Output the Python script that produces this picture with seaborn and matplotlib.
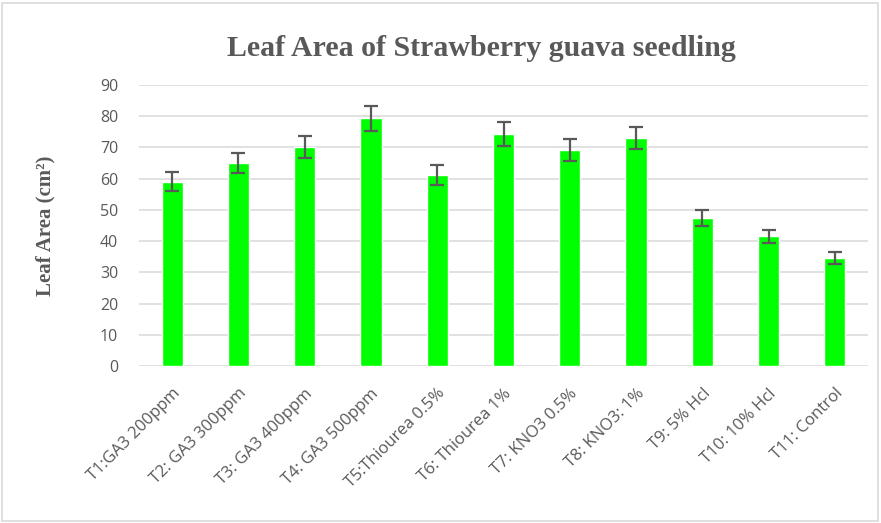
import matplotlib
matplotlib.use('Agg')
import matplotlib.pyplot as plt
import seaborn as sns
import pandas as pd
from matplotlib.patches import Rectangle

# ─── Data ───
treatments = ['T1:GA3 200ppm', 'T2: GA3 300ppm', 'T3: GA3 400ppm', 'T4: GA3 500ppm',
              'T5:Thiourea 0.5%', 'T6: Thiourea 1%', 'T7: KNO3 0.5%', 'T8: KNO3: 1%',
              'T9: 5% Hcl', 'T10: 10% Hcl', 'T11: Control']
leaf_area = [59.0, 65.0, 70.1, 79.4, 61.1, 74.3, 69.1, 73.0, 47.5, 41.6, 34.7]
std_err = [3.0, 3.3, 3.6, 4.0, 3.2, 3.8, 3.6, 3.6, 2.6, 2.1, 1.9]
y_ticks = [0, 10, 20, 30, 40, 50, 60, 70, 80, 90]

df = pd.DataFrame({'Treatment': treatments, 'LeafArea': leaf_area})

# ─── Setup ───
sns.set_theme(style='white')
plt.rcParams['font.family'] = ['Open Sans', 'DejaVu Sans']

GREY_TXT = '#595959'
GRID = '#D9D9D9'

fig = plt.figure(figsize=(8.81, 5.23), dpi=100)
ax = fig.add_axes([139 / 881, 157 / 523, 729 / 881, 281 / 523])

sns.barplot(data=df, x='Treatment', y='LeafArea', color='#00FF00',
            saturation=1, width=0.32, ax=ax, errorbar=None, zorder=3)
ax.errorbar(range(len(treatments)), leaf_area, yerr=std_err, fmt='none',
            ecolor=GREY_TXT, elinewidth=1.6, capsize=5, capthick=1.6, zorder=4)

ax.set_ylim(0, 90)
ax.set_xlim(-0.5, len(treatments) - 0.5)
ax.set_yticks(y_ticks)
ax.yaxis.grid(True, color=GRID, linewidth=1.1, zorder=0)
ax.set_axisbelow(True)
for s in ax.spines.values():
    s.set_visible(False)

ax.tick_params(axis='y', length=0, pad=15, labelsize=11.5, labelcolor=GREY_TXT)
ax.tick_params(axis='x', length=0, pad=14, labelsize=12, labelcolor=GREY_TXT)
plt.setp(ax.get_xticklabels(), rotation=45, ha='right', rotation_mode='anchor')

ax.set_xlabel('')
ax.set_ylabel('Leaf Area (cm²)', family='Liberation Serif', fontweight='bold',
              fontsize=15, color=GREY_TXT)
ax.yaxis.set_label_coords(-0.115, 0.5)

fig.text(0.546, 0.908, 'Leaf Area of Strawberry guava seedling', family='Liberation Serif',
         fontweight='bold', fontsize=21.5, color=GREY_TXT, ha='center', va='center')

# chart border
fig.patches.append(Rectangle((2 / 881, 2 / 523), 876 / 881, 518 / 523, transform=fig.transFigure,
                             fill=False, edgecolor=GRID, linewidth=1.2))

plt.savefig('out.png', dpi=100)
plt.close()
